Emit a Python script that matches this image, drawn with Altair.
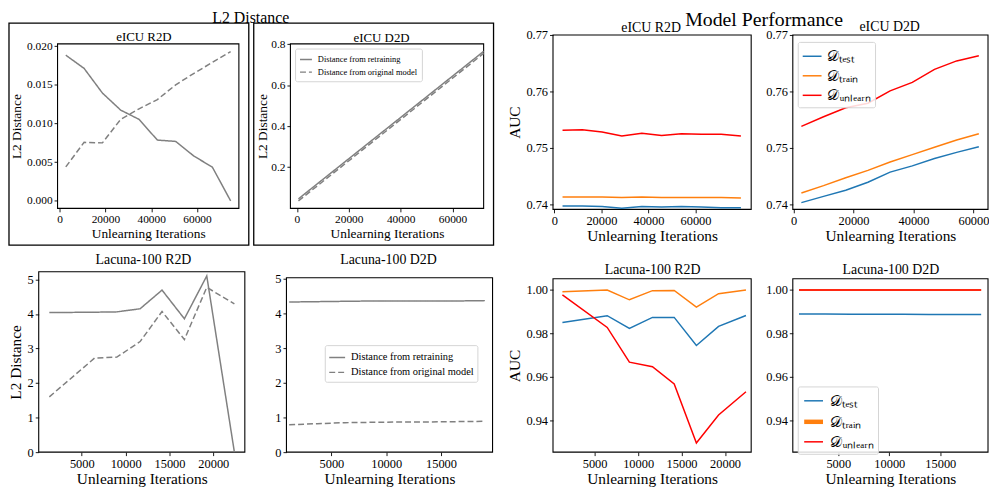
import altair as alt
import pandas as pd

SERIF = "Liberation Serif"
GRAY = "#808080"
BLUE = "#1f77b4"
ORANGE = "#ff7f0e"
RED = "#ff0000"

# ---------------- data ----------------
eicu_r2d_iter = [2700, 10700, 18700, 26700, 34700, 42700, 50700, 58700, 66700, 74700]
eicu_r2d_l2_retrain = [0.01884, 0.01713, 0.01394, 0.01173, 0.01054, 0.00786, 0.00769, 0.00578, 0.00437, 0.0]
eicu_r2d_l2_original = [0.0044, 0.00757, 0.0075, 0.01055, 0.0119, 0.0131, 0.0150, 0.0165, 0.0179, 0.0193]

eicu_r2d_auc_iter = [3500, 11900, 20300, 28700, 37200, 45600, 54000, 62500, 70900, 79300]
eicu_r2d_auc_test = [0.7397, 0.7397, 0.7396, 0.7393, 0.7396, 0.7395, 0.7396, 0.7395, 0.7394, 0.7394]
eicu_r2d_auc_train = [0.7413, 0.7413, 0.7413, 0.7412, 0.7413, 0.7412, 0.7412, 0.7412, 0.7412, 0.7411]
eicu_r2d_auc_unlearn = [0.7531, 0.7532, 0.7528, 0.7521, 0.7526, 0.7522, 0.7525, 0.7524, 0.7524, 0.7521]

eicu_d2d_l2_iter = [600, 9525, 18450, 27375, 36300, 45225, 54150, 63075, 72000]
eicu_d2d_l2_retrain = [0.045, 0.135, 0.225, 0.315, 0.405, 0.495, 0.585, 0.675, 0.765]
eicu_d2d_l2_original = [0.035, 0.125, 0.215, 0.305, 0.395, 0.485, 0.575, 0.665, 0.755]

eicu_d2d_iter = [2600, 10000, 17400, 24800, 32200, 39600, 47000, 54400, 61800]
eicu_d2d_auc_test = [0.7403, 0.7414, 0.7425, 0.7439, 0.7457, 0.7468, 0.7481, 0.7492, 0.7502]
eicu_d2d_auc_train = [0.7420, 0.7433, 0.7447, 0.7460, 0.7475, 0.7488, 0.7501, 0.7514, 0.7525]
eicu_d2d_auc_unlearn = [0.7538, 0.7555, 0.7571, 0.7579, 0.7601, 0.7616, 0.7639, 0.7654, 0.7663]

lac_r2d_iter = [1300, 6450, 9000, 11650, 14150, 16700, 19250, 22400]
lac_r2d_l2_retrain = [4.04, 4.05, 4.06, 4.15, 4.69, 3.86, 5.10, 0.0]
lac_r2d_l2_original = [1.60, 2.72, 2.75, 3.20, 4.07, 3.26, 4.77, 4.29]
lac_r2d_auc_test = [0.9851, 0.9882, 0.9823, 0.9874, 0.9874, 0.9745, 0.9833, 0.9883]
lac_r2d_auc_train = [0.9992, 1.0000, 0.9955, 0.9997, 0.9998, 0.9921, 0.9983, 1.0000]
lac_r2d_auc_unlearn = [0.9978, 0.9828, 0.9668, 0.9647, 0.9568, 0.9296, 0.9425, 0.9532]

lac_d2d_iter = [1150, 3700, 6250, 8800, 11350, 13900, 16450, 19000]
lac_d2d_l2_retrain = [4.33, 4.34, 4.35, 4.36, 4.36, 4.36, 4.36, 4.37]
lac_d2d_l2_original = [0.79, 0.82, 0.85, 0.86, 0.87, 0.87, 0.88, 0.89]
lac_d2d_auc_test = [0.9890, 0.9890, 0.9889, 0.9889, 0.9888, 0.9887, 0.9887, 0.9887]
lac_d2d_auc_train = [1.0, 1.0, 1.0, 1.0, 1.0, 1.0, 1.0, 1.0]
lac_d2d_auc_unlearn = [1.0, 1.0, 1.0, 1.0, 1.0, 1.0, 1.0, 1.0]

L2_NAMES = ["Distance from retraining", "Distance from original model"]
AUC_NAMES = ["test", "train", "unlearn"]
AUC_LABEL_EXPR = ("datum.label == 'test' ? '\U0001D49F\u209C\u2091\u209B\u209C' : "
                  "datum.label == 'train' ? '\U0001D49F\u209C\u1D63\u2090\u1D62\u2099' : "
                  "'\U0001D49F\u1D64\u2099\u2097\u2091\u2090\u1D63\u2099'")


def long_df(iters, series, names):
    rows = []
    for name, vals in zip(names, series):
        for it, v in zip(iters, vals):
            rows.append({"it": it, "v": v, "s": name})
    return pd.DataFrame(rows)


# ---------------- layout (absolute page pixels) ----------------
COL_X = [38, 288, 557, 799]
COL_W = [208, 227, 200, 197]
ROW_Y = [33, 272]
ROW_H = [176, 182]

# vb = top of the panel's own content above its view (title is stacked on it)
panels = [
    dict(row=0, col=0, plot=(57, 42, 240, 208), title="eICU R2D", tc=(144.2, 35), small=True, vb=-25,
         kind="l2", iters=eicu_r2d_iter, series=[eicu_r2d_l2_retrain, eicu_r2d_l2_original],
         xdom=[-900, 78300], ydom=[-0.00097, 0.0203], xticks=[0, 20000, 40000, 60000],
         yticks=[0.0, 0.005, 0.01, 0.015, 0.02], yfmt=".3f", ytitle="L2 Distance", ytc=15, xtc=233),
    dict(row=0, col=1, plot=(292, 42, 487, 208), title="eICU D2D", tc=(384, 35.7), small=True, vb=-12.65,
         kind="l2", iters=eicu_d2d_l2_iter, series=[eicu_d2d_l2_retrain, eicu_d2d_l2_original],
         xdom=[-2500, 72000], ydom=[-0.0015, 0.8015], xticks=[0, 20000, 40000, 60000],
         yticks=[0.2, 0.4, 0.6, 0.8], yfmt=".1f", ytitle="L2 Distance", ytc=264, xtc=233,
         legend=dict(box=(296.7, 46.7), fs=8.5, sym=12, pad=2, rowpad=0.8)),
    dict(row=0, col=2, plot=(557, 33, 757, 209), title="eICU R2D", tc=(656, 25), small=False, vb=-25,
         kind="auc", iters=eicu_r2d_auc_iter,
         series=[eicu_r2d_auc_test, eicu_r2d_auc_train, eicu_r2d_auc_unlearn],
         xdom=[-550, 83660], ydom=[0.7391, 0.77], xticks=[0, 20000, 40000, 60000],
         yticks=[0.74, 0.75, 0.76, 0.77], yfmt=".2f", ytitle="AUC", ytc=518, xtc=235.5),
    dict(row=0, col=3, plot=(799, 33, 996, 209), title="eICU D2D", tc=(896.7, 24.3), small=False, vb=-6,
         kind="auc", iters=eicu_d2d_iter,
         series=[eicu_d2d_auc_test, eicu_d2d_auc_train, eicu_d2d_auc_unlearn],
         xdom=[-260, 64860], ydom=[0.7391, 0.77], xticks=[0, 20000, 40000, 60000],
         yticks=[0.74, 0.75, 0.76, 0.77], yfmt=".2f", ytitle=None, ytc=None, xtc=235.5,
         legend=dict(box=(804, 40), fs=15, sym=19, pad=2, rowpad=0.7)),
    dict(row=1, col=0, plot=(38, 272, 246, 454), title="Lacuna-100 R2D", tc=(143.7, 260), small=False, vb=0,
         kind="l2", iters=lac_r2d_iter, series=[lac_r2d_l2_retrain, lac_r2d_l2_original],
         xdom=[90, 23590], ydom=[0, 5.22], xticks=[5000, 10000, 15000, 20000],
         yticks=[0, 1, 2, 3, 4, 5], yfmt="d", ytitle="L2 Distance", ytc=14.5, xtc=481),
    dict(row=1, col=1, plot=(288, 278, 496, 454), title="Lacuna-100 D2D", tc=(391, 260), small=False, vb=0,
         kind="l2", iters=lac_d2d_iter, series=[lac_d2d_l2_retrain, lac_d2d_l2_original],
         xdom=[900, 19700], ydom=[0, 5.03], xticks=[5000, 10000, 15000],
         yticks=[0, 1, 2, 3, 4, 5], yfmt="d", ytitle=None, ytc=None, xtc=481,
         legend=dict(box=(326.7, 346), fs=10.5, sym=16, pad=1.5, rowpad=0)),
    dict(row=1, col=2, plot=(557, 279, 757, 454), title="Lacuna-100 R2D", tc=(657.5, 270), small=False, vb=0,
         kind="auc", iters=lac_r2d_iter,
         series=[lac_r2d_auc_test, lac_r2d_auc_train, lac_r2d_auc_unlearn],
         xdom=[217, 23000], ydom=[0.9254, 1.0052], xticks=[5000, 10000, 15000, 20000],
         yticks=[0.94, 0.96, 0.98, 1.0], yfmt=".2f", ytitle="AUC", ytc=518, xtc=481),
    dict(row=1, col=3, plot=(799, 279, 996, 454), title="Lacuna-100 D2D", tc=(898, 269.3), small=False, vb=0,
         kind="auc", iters=lac_d2d_iter,
         series=[lac_d2d_auc_test, lac_d2d_auc_train, lac_d2d_auc_unlearn],
         xdom=[545, 19670], ydom=[0.9254, 1.0052], xticks=[5000, 10000, 15000],
         yticks=[0.94, 0.96, 0.98, 1.0], yfmt=".2f", ytitle=None, ytc=None, xtc=481,
         legend=dict(box=(804, 387.7), fs=15, sym=19, pad=2, rowpad=0.7), thick_train=True),
]

one = pd.DataFrame({"a": [0]})


def build(p):
    r, c = p["row"], p["col"]
    cx, cw, ry, rh = COL_X[c], COL_W[c], ROW_Y[r], ROW_H[r]
    x0, y0, x1, y1 = p["plot"]
    tick_fs = 11.5 if p["small"] else 12.5
    atitle_fs = 13.5 if p["small"] else 15.5
    ptitle_fs = 13 if p["small"] else 14

    xs = alt.Scale(domain=p["xdom"], range=[x0 - cx, x1 - cx], nice=False, zero=False)
    ys = alt.Scale(domain=p["ydom"], range=[y1 - ry, y0 - ry], nice=False, zero=False)

    xaxis = alt.Axis(values=p["xticks"], format="d", title="Unlearning Iterations",
                     offset=(y1 - ry) - rh, labelFontSize=tick_fs, titleFontSize=atitle_fs,
                     titleY=p["xtc"] - 0.46 * atitle_fs - y1, labelFlush=False, labelOverlap=False)
    yargs = dict(values=p["yticks"], format=p["yfmt"], offset=-(x0 - cx), labelFontSize=tick_fs,
                 titleFontSize=atitle_fs, labelOverlap=False)
    if p["ytitle"]:
        yargs["title"] = p["ytitle"]
        yargs["titleX"] = p["ytc"] + 0.54 * atitle_fs - x0
    else:
        yargs["title"] = None
    yaxis = alt.Axis(**yargs)

    spine_df = pd.DataFrame({"x1": [p["xdom"][0]], "x2": [p["xdom"][1]],
                             "y1": [p["ydom"][0]], "y2": [p["ydom"][1]]})
    spine = alt.Chart(spine_df).mark_rect(fillOpacity=0, stroke="black", strokeWidth=1.1).encode(
        x=alt.X("x1:Q", scale=xs, axis=xaxis), x2="x2:Q",
        y=alt.Y("y1:Q", scale=ys, axis=yaxis), y2="y2:Q")

    leg = p.get("legend")
    if leg:
        legend_common = dict(title=None, orient="none", legendX=leg["box"][0] - cx,
                             legendY=leg["box"][1] - ry, labelFont=SERIF, labelFontSize=leg["fs"],
                             symbolSize=leg["sym"] ** 2, symbolStrokeWidth=1.5, labelOffset=5,
                             padding=leg["pad"] + 2, rowPadding=leg["rowpad"], strokeColor="#d5d5d5",
                             fillColor="rgba(255,255,255,0.85)", cornerRadius=2)
    if p["kind"] == "l2":
        df = long_df(p["iters"], p["series"], L2_NAMES)
        legend = alt.Legend(symbolStrokeColor=GRAY, **legend_common) if leg else None
        lines = alt.Chart(df).mark_line(strokeWidth=1.5, color=GRAY).encode(
            x=alt.X("it:Q", scale=xs, axis=xaxis),
            y=alt.Y("v:Q", scale=ys, axis=yaxis),
            strokeDash=alt.StrokeDash("s:N", scale=alt.Scale(domain=L2_NAMES, range=[[1, 0], [6, 3]]),
                                      legend=legend))
    else:
        df = long_df(p["iters"], p["series"], AUC_NAMES)
        legend = alt.Legend(labelExpr=AUC_LABEL_EXPR, **legend_common) if leg else None
        enc = dict(
            x=alt.X("it:Q", scale=xs, axis=xaxis),
            y=alt.Y("v:Q", scale=ys, axis=yaxis),
            color=alt.Color("s:N", scale=alt.Scale(domain=AUC_NAMES, range=[BLUE, ORANGE, RED]),
                            legend=legend))
        if p.get("thick_train"):
            enc["strokeWidth"] = alt.StrokeWidth(
                "s:N", scale=alt.Scale(type="ordinal", domain=AUC_NAMES, range=[1.5, 4.5, 1.5]),
                legend=legend)
        lines = alt.Chart(df).mark_line(strokeWidth=1.5).encode(**enc)

    layers = [spine, lines]

    # decorations: framed boxes and group titles
    if r == 0 and c in (0, 1):
        fx0, fy0, fx1, fy1 = [(8, 21, 250, 245), (255, 21, 497, 245)][c]
        layers.append(alt.Chart(one).mark_rect(fillOpacity=0, stroke="black", strokeWidth=1.3).encode(
            x=alt.value(fx0 - cx), x2=alt.value(fx1 - cx), y=alt.value(fy0 - ry), y2=alt.value(fy1 - ry)))
    if r == 0 and c == 0:
        layers.append(alt.Chart(one).mark_text(text="L2 Distance", font=SERIF, fontSize=16, baseline="top",
                                               align="center", color="black").encode(
            x=alt.value(252 - cx), y=alt.value(8 - ry)))
    if r == 0 and c == 2:
        layers.append(alt.Chart(one).mark_text(text="Model Performance", font=SERIF, fontSize=20,
                                               baseline="top", align="center", color="black").encode(
            x=alt.value(770 - cx), y=alt.value(8 - ry)))

    tcx, tcy = p["tc"]
    # Vega stacks a top title on the top of the panel's content bounds (vb)
    want = tcy + 0.54 * ptitle_fs - ry
    title = alt.TitleParams(text=p["title"], font=SERIF, fontSize=ptitle_fs, fontWeight="normal",
                            color="black", frame="group", anchor="middle",
                            dx=tcx - (cx + cw / 2), offset=p["vb"] - want)
    return alt.layer(*layers).properties(width=cw, height=rh, title=title)


charts = [build(p) for p in panels]

chart = alt.concat(*charts, columns=4, spacing={"row": 63, "column": 42}, bounds="flush",
                   align="each").resolve_scale(
    x="independent", y="independent", color="independent",
    strokeDash="independent", strokeWidth="independent"
).properties(padding=0).configure_view(strokeWidth=0).configure_axis(
    labelFont=SERIF, titleFont=SERIF, grid=False, domain=False, tickColor="black",
    labelColor="black", titleColor="black", titleFontWeight="normal", tickSize=3.5,
    tickWidth=0.9, labelPadding=2
)

chart.save("out.html", embed_options={"renderer": "svg", "actions": False})
